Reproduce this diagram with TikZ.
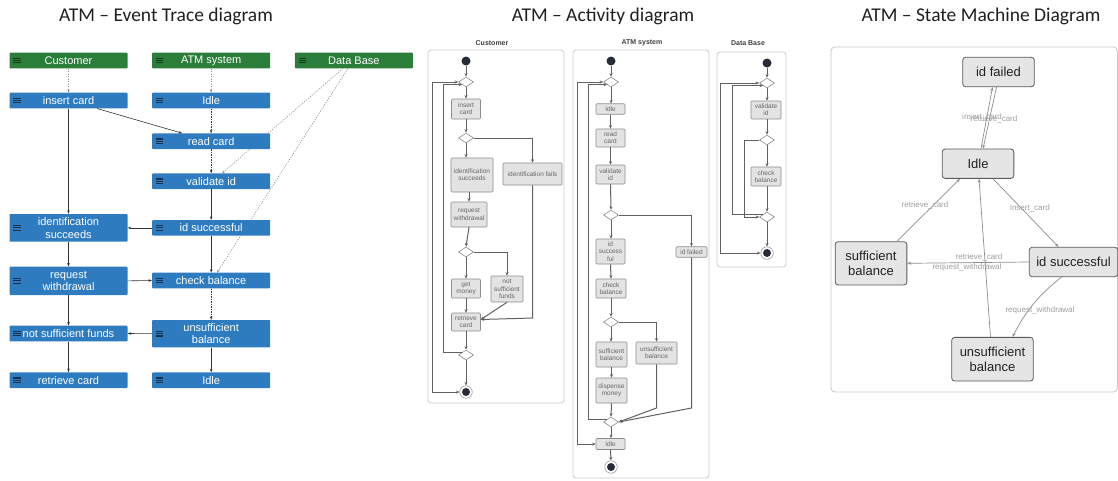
\documentclass[tikz,border=0pt]{standalone}
\usepackage{fontspec}
\setmainfont{Liberation Sans}
\newfontfamily\titlefont{Carlito}
\usetikzlibrary{shapes.geometric,arrows.meta,calc,backgrounds}
\definecolor{etblue}{RGB}{46,124,191}
\definecolor{etgreen}{RGB}{42,126,58}
\definecolor{eticonb}{RGB}{22,48,78}
\definecolor{eticong}{RGB}{18,60,26}
\definecolor{dotdark}{RGB}{40,44,56}
\begin{document}
\begin{tikzpicture}[x=1pt,y=-1pt,
  ttl/.style={font=\titlefont\fontsize{19.5}{22}\selectfont, text=black!88, inner sep=0pt},
  etb/.style={fill=etblue, text=white, font=\fontsize{11}{12.5}\selectfont, minimum width=118pt, minimum height=15.6pt, inner sep=0pt, align=center, rounded corners=0.8pt},
  eth/.style={etb, fill=etgreen},
  etarrow/.style={draw=black!80, line width=0.6pt, -{Stealth[length=3.5pt,width=2.6pt]}},
  etdark/.style={etarrow, dash pattern=on 1.5pt off 1pt},
  etdot/.style={draw=black!45, line width=0.6pt, dash pattern=on 1.2pt off 1.3pt, -{Stealth[length=3pt,width=2.4pt]}},
  lane/.style={draw=black!20, line width=0.8pt, rounded corners=3pt, fill=white},
  lanelab/.style={font=\bfseries\fontsize{7}{8}\selectfont, text=black!75, inner sep=0pt},
  act/.style={draw=black!45, fill=black!11, line width=0.6pt, rounded corners=1pt, inner sep=0pt, align=center, font=\fontsize{6.5}{7.2}\selectfont, text=black!60},
  dec/.style={diamond, draw=black!45, fill=white, line width=0.6pt, minimum width=15pt, minimum height=10pt, inner sep=0pt},
  startdot/.style={circle, fill=dotdark, minimum size=9pt, inner sep=0pt},
  enddot/.style={circle, draw=black!40, fill=white, line width=0.6pt, minimum size=12.5pt, inner sep=0pt, path picture={\fill[dotdark] (path picture bounding box.center) circle (4pt);}},
  flow/.style={draw=black!62, line width=1pt, -{Stealth[length=3.5pt,width=3pt]}},
  flowboth/.style={flow, {Stealth[length=3.5pt,width=3pt]}-{Stealth[length=3.5pt,width=3pt]}},
  sm/.style={draw=black!65, fill=black!10, line width=0.8pt, rounded corners=3pt, align=center, font=\fontsize{13}{14.5}\selectfont, text=black!87, inner sep=0pt},
  smedge/.style={draw=black!45, line width=0.7pt, -{Stealth[length=4pt,width=3pt]}},
  smlab/.style={font=\fontsize{8}{9}\selectfont, text=black!38, inner sep=0pt}
]
\useasboundingbox (0,0) rectangle (1118,480);

% ---------------- titles
\node[ttl] (t1) at (166,16) {ATM – Event Trace diagram};
\node[ttl] (t2) at (603,16) {ATM – Activity diagram};
\node[ttl] (t3) at (981,16) {ATM – State Machine Diagram};

% ---------------- Event trace
\node[eth] (hcust) at (68.5,60.5) {Customer};
\node[eth] (hatm) at (211.15,60.5) {ATM system};
\node[eth] (hdb) at (353.85,60.5) {Data Base};
\node[etb] (ins) at (68.5,100.5) {insert card};
\node[etb] (idle1) at (211.15,100.5) {Idle};
\node[etb] (read) at (211.15,141.2) {read card};
\node[etb] (val) at (211.15,181.2) {validate id};
\node[etb, minimum height=27.7pt] (idsucc) at (68.5,227.85) {identification\\succeeds};
\node[etb] (idok) at (211.15,227.85) {id successful};
\node[etb, minimum height=28.3pt] (req) at (68.5,280.85) {request\\withdrawal};
\node[etb] (chk) at (211.15,280.5) {check balance};
\node[etb] (notsuf) at (68.5,333.5) {not sufficient funds};
\node[etb, minimum height=27.3pt] (unsuf) at (211.15,333.65) {unsufficient\\balance};
\node[etb] (ret) at (68.5,380.2) {retrieve card};
\node[etb] (idle2) at (211.15,380.2) {Idle};

\foreach \n in {ins,idle1,read,val,idsucc,idok,req,chk,notsuf,unsuf,ret,idle2}{
  \foreach \dy in {-2.9,-0.6,1.7}
    \fill[eticonb] ($(\n.west)+(4,\dy)$) rectangle +(7.5,1.2);
}
\foreach \n in {hcust,hatm,hdb}{
  \foreach \dy in {-2.9,-0.6,1.7}
    \fill[eticong] ($(\n.west)+(4,\dy)$) rectangle +(7.5,1.2);
}

\begin{scope}[on background layer]
\draw[etdot] ($(hdb.south)+(-11,0)$) -- ($(val.north)+(11,0)$);
\draw[etdot] ($(hdb.south)+(-6,0)$) -- ($(chk.north)+(6,0)$);
\end{scope}

\draw[etdot] (hcust) -- (ins);
\draw[etdot] (hatm) -- (idle1);
\draw[etarrow] ($(ins.south)+(28.5,0)$) -- ($(read.north)+(-29,0)$);
\draw[etdark] (idle1) -- (read);
\draw[etdark] (read) -- (val);
\draw[etarrow] (val) -- (idok);
\draw[etarrow] (idok) -- (chk);
\draw[etdark] (chk) -- (unsuf);
\draw[etarrow] (unsuf) -- (idle2);
\draw[etarrow] (ins) -- (idsucc);
\draw[etarrow] (idsucc) -- (req);
\draw[etarrow] (req) -- (notsuf);
\draw[etarrow] (notsuf) -- (ret);
\draw[etarrow] (idok.west) -- (idsucc.east);
\draw[etarrow] (req.east) -- (chk.west);
\draw[etarrow] (unsuf.west) -- (notsuf.east);

% ---------------- Activity diagram lanes
\node[lanelab] (lc) at (492,43) {Customer};
\node[lanelab] (la) at (642,43) {ATM system};
\node[lanelab] (ld) at (748,43) {Data Base};
\draw[lane] (428,50) rectangle (564,403);
\draw[lane] (573,50) rectangle (709,478);
\draw[lane] (717,52) rectangle (786,267);

% Customer lane
\node[startdot] (cstart) at (466,61) {};
\node[dec] (cd1) at (466,82) {};
\node[act, minimum width=29pt, minimum height=20pt] (cins) at (466,109) {insert\\card};
\node[dec] (cd2) at (466,138) {};
\node[act, minimum width=42pt, minimum height=34pt] (cidok) at (472,175) {identification\\succeeds};
\node[act, minimum width=59pt, minimum height=22pt] (cidf) at (532.5,174) {identification fails};
\node[act, minimum width=36pt, minimum height=25pt] (creq) at (469,214.5) {request\\withdrawal};
\node[dec] (cd3) at (466,252) {};
\node[act, minimum width=29pt, minimum height=19pt] (cget) at (466,288.5) {get\\money};
\node[act, minimum width=32pt, minimum height=26pt] (cnot) at (507,289) {not\\sufficient\\funds};
\node[act, minimum width=29pt, minimum height=18pt] (cret) at (466,322) {retrieve\\card};
\node[dec] (cd4) at (466,355) {};
\node[enddot] (cend) at (466,392) {};

\draw[flow] (cstart) -- (cd1);
\draw[flow] (cd1) -- (cins);
\draw[flow] (cins) -- (cd2);
\draw[flow] (cd2.south) -- (cidok.north -| cd2.south);
\draw[flow] (cd2.east) -| (cidf.north);
\draw[flow] (cidok.south -| creq.north) -- (creq.north);
\draw[flow] (creq.south) -- (cd3.north);
\draw[flow] (cd3.south) -- (cget.north);
\draw[flow] (cd3.east) -| (cnot.north);
\draw[flow] (cget) -- (cret);
\draw[flow] (cnot.south) -- ($(cret.east)+(0,-2.5)$);
\draw[flow] (cidf.south) -- (532.5,318) -- ($(cret.east)+(0,-2.5)$);
\draw[flow] (cret) -- (cd4);
\draw[flow] (cd4) -- (cend);
\draw[flowboth] (cd1.west) -- (432,82) -- (432,392) -- (cend.west);
\draw[flow] (cd4.north west) -- (cd4.north west -| 443,0) -- (cd1.south west -| 443,0) -- (cd1.south west);

% ATM lane
\node[startdot] (astart) at (611,61) {};
\node[dec] (ad1) at (611,82) {};
\node[act, minimum width=29pt, minimum height=10.5pt] (aidle) at (610.5,109) {Idle};
\node[act, minimum width=29pt, minimum height=18pt] (aread) at (610.5,138) {read\\card};
\node[act, minimum width=29pt, minimum height=19pt] (aval) at (610.5,174.5) {validate\\id};
\node[dec] (ad2) at (611,215) {};
\node[act, minimum width=29pt, minimum height=25pt] (aidok) at (610.5,251.5) {id\\success\\ful};
\node[act, minimum width=31pt, minimum height=10.5pt] (aidf) at (691.5,252) {id failed};
\node[act, minimum width=30pt, minimum height=19pt] (achk) at (611,288.5) {check\\balance};
\node[dec] (ad3) at (611,322) {};
\node[act, minimum width=31pt, minimum height=25pt] (asuf) at (611.5,354.5) {sufficient\\balance};
\node[act, minimum width=41pt, minimum height=22pt] (aunsuf) at (656.5,353) {unsufficient\\balance};
\node[act, minimum width=31pt, minimum height=25pt] (adisp) at (611.5,390.5) {dispense\\money};
\node[dec] (ad4) at (611,422) {};
\node[act, minimum width=29pt, minimum height=11pt] (aidle2) at (610.5,444) {Idle};
\node[enddot] (aend) at (611,467) {};

\draw[flow] (astart) -- (ad1);
\draw[flow] (ad1.south) -- (aidle.north -| ad1.south);
\draw[flow] (aidle) -- (aread);
\draw[flow] (aread) -- (aval);
\draw[flow] (aval.south) -- (ad2.north);
\draw[flow] (ad2.south) -- (aidok.north -| ad2.south);
\draw[flow] (ad2.east) -| (aidf.north);
\draw[flow] (aidok.south) -- (achk.north);
\draw[flow] (achk) -- (ad3);
\draw[flow] (ad3.south) -- (asuf.north -| ad3.south);
\draw[flow] (ad3.east) -| (aunsuf.north);
\draw[flow] (asuf) -- (adisp);
\draw[flow] (adisp.south) -- (ad4.north);
\draw[flow] (aunsuf.south) -- (656.5,408) -- (ad4.east);
\draw[flow] (aidf.south) -- (691.5,408) -- (ad4.east);
\draw[flow] (ad4.south) -- (aidle2.north -| ad4.south);
\draw[flow] (aidle2) -- (aend);
\draw[flowboth] (ad1.west) -- (577,82) -- (577,444) -- (aidle2.west);
\draw[flow] (ad4.north west) -- (ad4.north west -| 588,0) -- (ad1.south west -| 588,0) -- (ad1.south west);

% Data Base lane
\node[startdot] (dstart) at (767,63) {};
\node[dec] (dd1) at (767,83) {};
\node[act, minimum width=30pt, minimum height=18pt] (dval) at (766,110) {validate\\id};
\node[dec] (dd2) at (767,140) {};
\node[act, minimum width=30pt, minimum height=19pt] (dchk) at (766,176.5) {check\\balance};
\node[dec] (dd3) at (767,217) {};
\node[enddot] (dend) at (767,253) {};

\draw[flow] (dstart) -- (dd1);
\draw[flow] (dd1.south) -- (dval.north -| dd1.south);
\draw[flow] (dval.south -| dd2.north) -- (dd2.north);
\draw[flow] (dd2.south) -- (dchk.north -| dd2.south);
\draw[flow] (dchk.south -| dd3.north) -- (dd3.north);
\draw[flow] (dd3) -- (dend);
\draw[flowboth] (dd1.west) -- (720,83) -- (720,253) -- (dend.west);
\draw[flow] (dd3.north west) -- (dd3.north west -| 732,0) -- (dd1.south west -| 732,0) -- (dd1.south west);
\draw[flow] (dd2.west) -- (dd2.west -| 744,0) -- (dd3.west -| 744,0) -- (dd3.west);

% ---------------- State machine
\draw[draw=black!22, line width=0.8pt, rounded corners=4pt] (831,47) rectangle (1117.5,392);
\node[sm, minimum width=71.6pt, minimum height=29.4pt] (sfail) at (998.5,72) {id failed};
\node[sm, minimum width=71.7pt, minimum height=29.3pt] (sidle) at (978,163.7) {Idle};
\node[sm, minimum width=71.7pt, minimum height=43.3pt] (ssuf) at (871,263.3) {sufficient\\balance};
\node[sm, minimum width=88.5pt, minimum height=29.4pt] (sok) at (1073.5,262) {id successful};
\node[sm, minimum width=81.6pt, minimum height=43.7pt] (sunsuf) at (992.5,359.2) {unsufficient\\balance};

\draw[smedge] ($(sidle.north)+(3,0)$) -- ($(sfail.south)+(-6,0)$);
\draw[smedge] ($(sfail.south)+(-2,0)$) -- ($(sidle.north)+(5,0)$);
\draw[smedge] ($(ssuf.north)+(26,0)$) -- ($(sidle.south)+(-18,0)$);
\draw[smedge] ($(sunsuf.north)+(-2,0)$) -- ($(sidle.south)+(1,0)$);
\draw[smedge] ($(sidle.south)+(15,0)$) -- ($(sok.north)+(-15,0)$);
\draw[smedge] (sok.west) -- (ssuf.east);
\draw[smedge] ($(sok.south)+(-12,0)$) to[bend right=12] ($(sunsuf.north)+(20,0)$);

\node[smlab] (l1) at (982,117) {insert\_card};
\node[smlab] (l2) at (994,119.5) {retrieve\_card};
\node[smlab] (l3) at (925,205.7) {retrieve\_card};
\node[smlab] (l4) at (1030,208.3) {insert\_card};
\node[smlab] (l5) at (979,257.7) {retrieve\_card};
\node[smlab] (l6) at (967,267.7) {request\_withdrawal};
\node[smlab] (l7) at (1040,310) {request\_withdrawal};
\end{tikzpicture}
\end{document}
